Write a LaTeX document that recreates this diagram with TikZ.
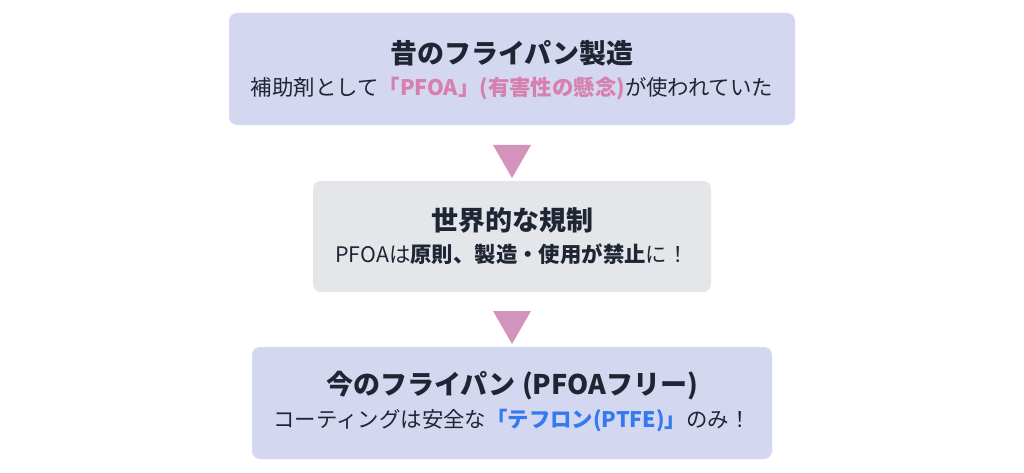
\documentclass[tikz,border=0pt]{standalone}
\usepackage{fontspec}
\setmainfont{Noto Sans CJK JP}
\definecolor{lav}{HTML}{D3D7F0}
\definecolor{gry}{HTML}{E5E6EA}
\definecolor{pk}{HTML}{D493BC}
\definecolor{pkt}{HTML}{D77FAE}
\definecolor{bl}{HTML}{3579F0}
\definecolor{dk}{HTML}{1F2633}
\begin{document}
\begin{tikzpicture}[x=1pt,y=-1pt,
  box/.style={rounded corners=8pt,draw=none},
  ttl/.style={font=\fontsize{27}{31}\selectfont\bfseries,text=dk,inner sep=0},
  sub/.style={font=\fontsize{21.4}{25}\selectfont,text=dk,inner sep=0},
  tri/.style={fill=pk}]
\useasboundingbox (0,0) rectangle (1024,473);
\fill[white] (0,0) rectangle (1024,473);
\fill[box,lav] (229,13) rectangle (795,125);
\fill[box,gry] (313,181) rectangle (711,292);
\fill[box,lav] (252,347) rectangle (772,459);
\node[ttl] (t1) at (512,53) {昔のフライパン製造};
\node[sub] (s1) at (512,89) {補助剤として{\bfseries\color{pkt}「PFOA」(有害性の懸念)}が使われていた};
\node[ttl] (t2) at (512,220) {世界的な規制};
\node[sub] (s2) at (512,254) {PFOAは{\bfseries 原則、製造・使用が禁止}に！};
\node[ttl] (t3) at (512,386) {今のフライパン (PFOAフリー)};
\node[sub] (s3) at (512,421) {コーティングは安全な{\bfseries\color{bl}「テフロン(PTFE)」}のみ！};
\coordinate (a1) at (512,145);
\coordinate (a2) at (512,311);
\fill[tri] (a1) ++(-19,0) -- ++(38,0) -- ++(-19,33) -- cycle;
\fill[tri] (a2) ++(-19,0) -- ++(38,0) -- ++(-19,33) -- cycle;
\end{tikzpicture}
\end{document}
